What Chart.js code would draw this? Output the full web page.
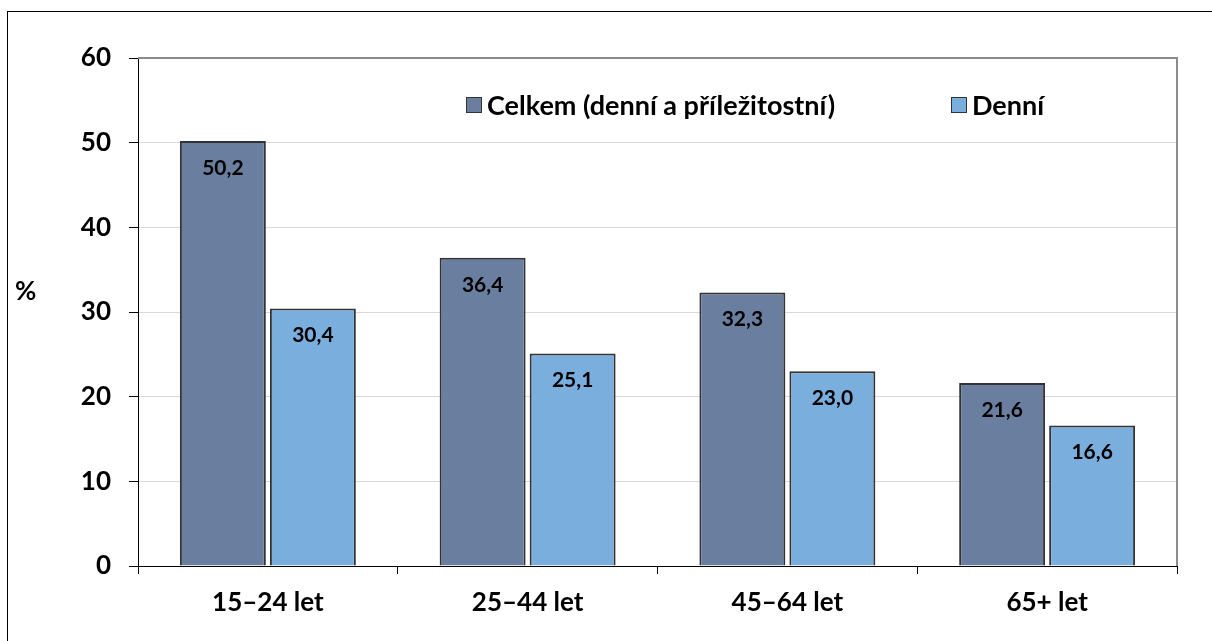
<!DOCTYPE html>
<html>
<head>
<meta charset="utf-8">
<script src="https://cdn.jsdelivr.net/npm/chart.js@4/dist/chart.umd.min.js"></script>
<style>
  html, body { margin: 0; padding: 0; background: #fff; }
  #wrap { position: relative; width: 1212px; height: 641px; overflow: hidden; }
  #frame { position: absolute; left: 7px; top: 11px; width: 1300px; height: 800px; border: 1px solid #000; box-sizing: border-box; }
  canvas { position: absolute; left: 0; top: 0; }
</style>
</head>
<body>
<div id="wrap">
  <div id="frame"></div>
  <canvas id="chart" width="1212" height="641"></canvas>
</div>
<script>
const categories = ["15–24 let", "25–44 let", "45–64 let", "65+ let"];
const seriesNames = ["Celkem (denní a příležitostní)", "Denní"];
const celkem = [50.2, 36.4, 32.3, 21.6];
const denni = [30.4, 25.1, 23.0, 16.6];
const yTicks = [0, 10, 20, 30, 40, 50, 60];
const yUnit = "%";

const FONT = "Lato, 'Open Sans', sans-serif";
const colors = ["#6a7f9f", "#7aaedd"];

// plot frame, value labels, legend and unit
const extras = {
  id: "extras",
  beforeDatasetsDraw(chart) {
    const { ctx, chartArea: a } = chart;
    ctx.save();
    ctx.strokeStyle = "#8c8c8c";
    ctx.lineWidth = 2;
    ctx.beginPath();
    ctx.moveTo(a.left, a.top);
    ctx.lineTo(a.right, a.top);
    ctx.lineTo(a.right, a.bottom);
    ctx.stroke();
    ctx.restore();
  },
  afterDatasetsDraw(chart) {
    const { ctx } = chart;
    ctx.save();
    ctx.fillStyle = "#000";
    ctx.font = "bold 21px " + FONT;
    ctx.textAlign = "center";
    ctx.textBaseline = "middle";
    chart.data.datasets.forEach((ds, i) => {
      chart.getDatasetMeta(i).data.forEach((bar, j) => {
        const txt = ds.data[j].toFixed(1).replace(".", ",");
        ctx.fillText(txt, bar.x, bar.y + 27);
      });
    });

    // legend
    ctx.font = "bold 27px " + FONT;
    ctx.textAlign = "left";
    const lx = [466, 951];
    seriesNames.forEach((name, i) => {
      ctx.fillStyle = colors[i];
      ctx.fillRect(lx[i], 97, 15, 15);
      ctx.strokeStyle = "#333";
      ctx.lineWidth = 1;
      ctx.strokeRect(lx[i] + 0.5, 97.5, 15, 15);
      ctx.fillStyle = "#000";
      ctx.fillText(name, lx[i] + 21, 106);
    });

    // unit
    ctx.font = "bold 26px " + FONT;
    ctx.fillText(yUnit, 15, 292);
    ctx.restore();
  }
};

new Chart(document.getElementById("chart"), {
  type: "bar",
  data: {
    labels: categories,
    datasets: [
      { label: seriesNames[0], data: celkem, backgroundColor: colors[0], borderColor: "#333", borderWidth: 2 },
      { label: seriesNames[1], data: denni, backgroundColor: colors[1], borderColor: "#333", borderWidth: 2 }
    ]
  },
  options: {
    responsive: false,
    animation: false,
    categoryPercentage: 0.693,
    barPercentage: 0.955,
    layout: { padding: { left: 0, top: 58, right: 35, bottom: 0 } },
    plugins: {
      legend: { display: false },
      tooltip: { enabled: false }
    },
    scales: {
      x: {
        afterFit(scale) { scale.height = 75; },
        grid: { drawOnChartArea: false, offset: true, tickLength: 8, tickColor: "#000", color: "#000" },
        border: { color: "#000", width: 1 },
        ticks: { color: "#000", padding: 13, font: { family: FONT, size: 26, weight: "bold" } }
      },
      y: {
        min: 0,
        max: 60,
        afterFit(scale) { scale.width = 138; },
        afterBuildTicks(scale) { scale.ticks = yTicks.map(v => ({ value: v })); },
        grid: { color: "#d9d9d9", tickLength: 9, tickColor: "#000", lineWidth: 1 },
        border: { color: "#000", width: 1 },
        ticks: { color: "#000", padding: 18, font: { family: FONT, size: 26, weight: "bold" } }
      }
    }
  },
  plugins: [extras]
});
</script>
</body>
</html>
